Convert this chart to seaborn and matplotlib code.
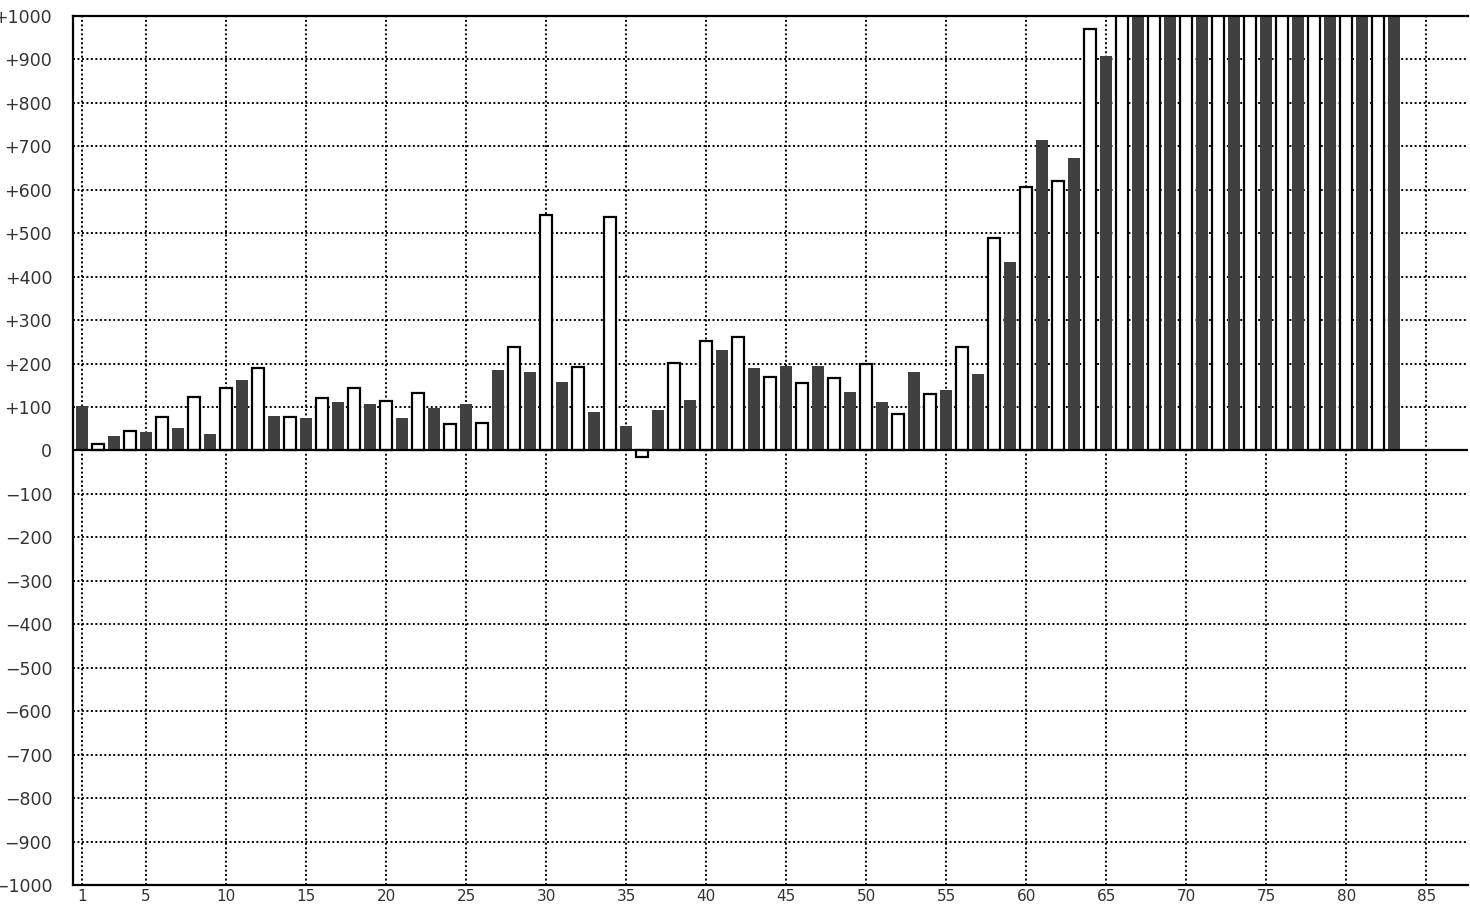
import matplotlib
matplotlib.use("Agg")
import matplotlib.pyplot as plt
import pandas as pd
import seaborn as sns

# bar positions 1..83, odd = dark series, even = white series
positions = list(range(1, 84))
values = [103, 14, 34, 46, 43, 78, 52, 124, 38, 143,
          163, 189, 80, 78, 75, 120, 112, 143, 107, 115,
          75, 133, 98, 60, 107, 64, 186, 239, 181, 543,
          158, 193, 89, 538, 57, -15, 94, 202, 117, 253,
          232, 262, 190, 170, 195, 156, 195, 166, 135, 198,
          112, 83, 181, 129, 140, 239, 176, 488, 434, 607,
          715, 621, 673, 971, 908,
          # 66..83 run off the top of the chart (clipped at +1000)
          1050, 1080, 1100, 1120, 1150, 1170, 1200, 1220, 1250,
          1270, 1300, 1320, 1350, 1380, 1400, 1420, 1450, 1480]
series = ["odd" if p % 2 else "even" for p in positions]

xticks = [1, 5, 10, 15, 20, 25, 30, 35, 40, 45, 50, 55, 60, 65, 70, 75, 80, 85]
yticks = list(range(-1000, 1001, 100))
ylabels = ["+%d" % t if t > 0 else ("0" if t == 0 else "\u2212%d" % -t) for t in yticks]

df = pd.DataFrame({"x": positions, "value": values, "series": series})

sns.set_style("white")
plt.rcParams["font.family"] = ["DejaVu Sans"]

fig = plt.figure(figsize=(14.7, 9.08), dpi=100)
ax = fig.add_axes([73 / 1470, 23 / 908, 1395 / 1470, 869 / 908])

sns.barplot(data=df, x="x", y="value", hue="series", native_scale=True,
            palette={"odd": "#404040", "even": "white"}, width=0.75,
            saturation=1, legend=False, ax=ax, errorbar=None, zorder=2)

# white bars get a black outline, dark ones none
for patch in ax.patches:
    fc = patch.get_facecolor()
    if fc[0] > 0.9:
        patch.set_edgecolor("black")
        patch.set_linewidth(1.6)
    else:
        patch.set_edgecolor("none")
        patch.set_linewidth(0)

ax.set_xlim(0.44, 87.6)
ax.set_ylim(-1000, 1000)
ax.set_xticks(xticks)
ax.set_xticklabels([str(t) for t in xticks])
ax.set_yticks(yticks)
ax.set_yticklabels(ylabels)
ax.set_xlabel("")
ax.set_ylabel("")

ax.set_axisbelow(True)
ax.grid(True, color="black", linestyle=(0, (1, 1.3)), linewidth=1.4)
ax.axhline(0, color="black", linewidth=1.6, zorder=3)

ax.tick_params(axis="y", length=0, pad=15, labelsize=12.5, labelcolor="#333333")
ax.tick_params(axis="x", length=0, pad=3, labelsize=11, labelcolor="#333333")

for side in ["left", "bottom", "top"]:
    ax.spines[side].set_color("black")
    ax.spines[side].set_linewidth(1.6)
    ax.spines[side].set_zorder(4)
ax.spines["right"].set_visible(False)

fig.savefig("out.png", dpi=100)
